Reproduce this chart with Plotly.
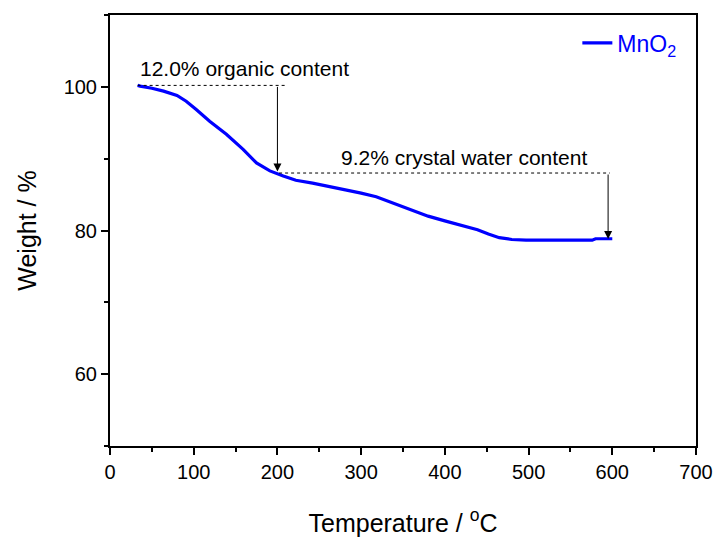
import plotly.graph_objects as go

# TGA curve of MnO2: temperature (°C) vs. remaining weight (%)
temperature = [33, 36, 50, 64, 80, 91, 103, 119, 139, 159, 175, 191, 207, 222, 242,
               262, 282, 300, 318, 340, 362, 380, 401, 420, 439, 452, 465, 480, 497, 530,
               560, 576, 580, 600]
weight = [100.2, 100.1, 99.8, 99.4, 98.8, 98.0, 96.85, 95.2, 93.4, 91.3, 89.4, 88.3, 87.6,
          87.0, 86.6, 86.15, 85.7, 85.2, 84.7, 83.7, 82.7, 82.0, 81.3, 80.7, 80.1, 79.5,
          79.0, 78.75, 78.65, 78.65, 78.65, 78.65, 78.85, 78.85]

# weight-loss steps
start_weight = 100.2
organic_loss = 12.0
plateau_weight = 88.0
water_loss = 9.2

x_ticks = [0, 100, 200, 300, 400, 500, 600, 700]
y_ticks = [60, 80, 100]

FONT = "Liberation Sans, Arial, sans-serif"

fig = go.Figure()
fig.add_trace(go.Scatter(
    x=temperature, y=weight, mode="lines", name="MnO<sub>2</sub>",
    line=dict(color="#0000ff", width=3.2),
))

# dotted reference levels
fig.add_shape(type="line", x0=33, x1=210, y0=start_weight, y1=start_weight,
              line=dict(color="black", width=1, dash="dot"))
fig.add_shape(type="line", x0=202, x1=597, y0=plateau_weight, y1=plateau_weight,
              line=dict(color="black", width=1, dash="dot"))

# arrows showing each loss
arrow = dict(showarrow=True, arrowhead=2, arrowsize=1.6, arrowwidth=1,
             arrowcolor="black", axref="x", ayref="y", text="")
fig.add_annotation(x=200, y=start_weight - organic_loss, ax=200, ay=start_weight, **arrow)
fig.add_annotation(x=595, y=plateau_weight - water_loss, ax=595, ay=plateau_weight, **arrow)

label_font = dict(family=FONT, size=21, color="black")
fig.add_annotation(x=33, y=102.5, xanchor="left", yanchor="middle", showarrow=False,
                   text=f"{organic_loss:.1f}% organic content", font=label_font)
fig.add_annotation(x=423, y=90.1, xanchor="center", yanchor="middle", showarrow=False,
                   text=f"{water_loss:.1f}% crystal water content", font=label_font)

axis_common = dict(
    showline=True, linecolor="black", linewidth=2, mirror=True,
    ticks="outside", ticklen=7, tickwidth=2, tickcolor="black",
    showgrid=False, zeroline=False,
    tickfont=dict(family=FONT, size=20, color="black"),
)

fig.update_xaxes(
    range=[0, 700], tickvals=x_ticks,
    minor=dict(ticks="outside", ticklen=4, tickwidth=2, tickcolor="black", dtick=50, tick0=0),
    title=dict(text="Temperature / <sup>o</sup>C", font=dict(family=FONT, size=25, color="black"),
               standoff=32),
    **axis_common,
)
fig.update_yaxes(
    range=[50, 110], tickvals=y_ticks,
    minor=dict(ticks="outside", ticklen=4, tickwidth=2, tickcolor="black", dtick=10, tick0=0),
    title=dict(text="Weight / %", font=dict(family=FONT, size=25, color="black"), standoff=20),
    **axis_common,
)

fig.update_layout(
    width=718, height=538,
    margin=dict(l=110, r=22, t=15, b=92, autoexpand=False),
    paper_bgcolor="white", plot_bgcolor="white",
    showlegend=True,
    legend=dict(x=0.975, y=0.985, xanchor="right", yanchor="top",
                bgcolor="rgba(0,0,0,0)", borderwidth=0,
                font=dict(family=FONT, size=23, color="#0000ff")),
)

fig.write_html("out.html")
